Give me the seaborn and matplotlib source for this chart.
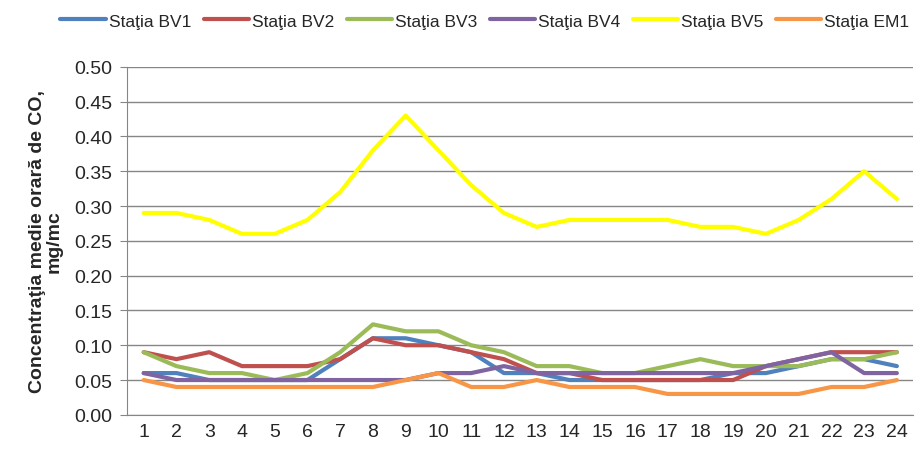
import pandas as pd
import seaborn as sns
import matplotlib.pyplot as plt

hours = list(range(1, 25))
bv1 = [0.06, 0.06, 0.05, 0.05, 0.05, 0.05, 0.08, 0.11, 0.11, 0.10, 0.09, 0.06,
       0.06, 0.05, 0.05, 0.05, 0.05, 0.05, 0.06, 0.06, 0.07, 0.08, 0.08, 0.07]
bv2 = [0.09, 0.08, 0.09, 0.07, 0.07, 0.07, 0.08, 0.11, 0.10, 0.10, 0.09, 0.08,
       0.06, 0.06, 0.05, 0.05, 0.05, 0.05, 0.05, 0.07, 0.08, 0.09, 0.09, 0.09]
bv3 = [0.09, 0.07, 0.06, 0.06, 0.05, 0.06, 0.09, 0.13, 0.12, 0.12, 0.10, 0.09,
       0.07, 0.07, 0.06, 0.06, 0.07, 0.08, 0.07, 0.07, 0.07, 0.08, 0.08, 0.09]
bv4 = [0.06, 0.05, 0.05, 0.05, 0.05, 0.05, 0.05, 0.05, 0.05, 0.06, 0.06, 0.07,
       0.06, 0.06, 0.06, 0.06, 0.06, 0.06, 0.06, 0.07, 0.08, 0.09, 0.06, 0.06]
bv5 = [0.29, 0.29, 0.28, 0.26, 0.26, 0.28, 0.32, 0.38, 0.43, 0.38, 0.33, 0.29,
       0.27, 0.28, 0.28, 0.28, 0.28, 0.27, 0.27, 0.26, 0.28, 0.31, 0.35, 0.31]
em1 = [0.05, 0.04, 0.04, 0.04, 0.04, 0.04, 0.04, 0.04, 0.05, 0.06, 0.04, 0.04,
       0.05, 0.04, 0.04, 0.04, 0.03, 0.03, 0.03, 0.03, 0.03, 0.04, 0.04, 0.05]
stations = ['Staţia BV1', 'Staţia BV2', 'Staţia BV3', 'Staţia BV4', 'Staţia BV5', 'Staţia EM1']
colors = ['#4F81BD', '#C0504D', '#9BBB59', '#8064A2', '#FFFF00', '#F79646']

df = pd.DataFrame({'Ora': hours, stations[0]: bv1, stations[1]: bv2, stations[2]: bv3,
                   stations[3]: bv4, stations[4]: bv5, stations[5]: em1})
df = df.melt(id_vars='Ora', var_name='Statia', value_name='CO')

sns.set_style('white')
plt.rcParams['font.family'] = ['Liberation Sans', 'DejaVu Sans']

fig, ax = plt.subplots(figsize=(9.16, 4.52), dpi=100)
fig.subplots_adjust(left=0.139, right=0.997, top=0.85, bottom=0.08)

sns.lineplot(data=df, x='Ora', y='CO', hue='Statia', palette=colors, linewidth=3,
             ax=ax, legend=True)

ax.set_xlim(0.5, 24.5)
ax.set_ylim(0, 0.5)
ax.set_yticks([i * 0.05 for i in range(11)])
ax.set_yticklabels([f'{i * 0.05:.2f}' for i in range(11)])
ax.set_xticks(hours)
ax.set_xticks([h + 0.5 for h in range(0, 25)], minor=True)
ax.tick_params(axis='x', which='major', length=0, labelsize=14, pad=6)
ax.tick_params(axis='x', which='minor', length=5, color='#868686', direction='out')
ax.tick_params(axis='y', length=5, color='#868686', direction='out', labelsize=14,
               left=True, pad=6)
ax.yaxis.grid(True, color='#868686', linewidth=1)
ax.set_axisbelow(True)
for side in ['top', 'right']:
    ax.spines[side].set_visible(False)
for side in ['left', 'bottom']:
    ax.spines[side].set_color('#868686')
ax.set_xlabel('')
ax.set_ylabel('Concentraţia medie orară de CO,\nmg/mc', fontsize=14, fontweight='bold',
              labelpad=8, linespacing=1.0)

handles, labels = ax.get_legend_handles_labels()
ax.legend(handles, labels, loc='lower center', bbox_to_anchor=(0.455, 1.09), ncol=6,
          frameon=False, fontsize=12.5, handlelength=2.6, columnspacing=0.7,
          handletextpad=0.2, borderaxespad=0)

plt.savefig('out.png', dpi=100)
